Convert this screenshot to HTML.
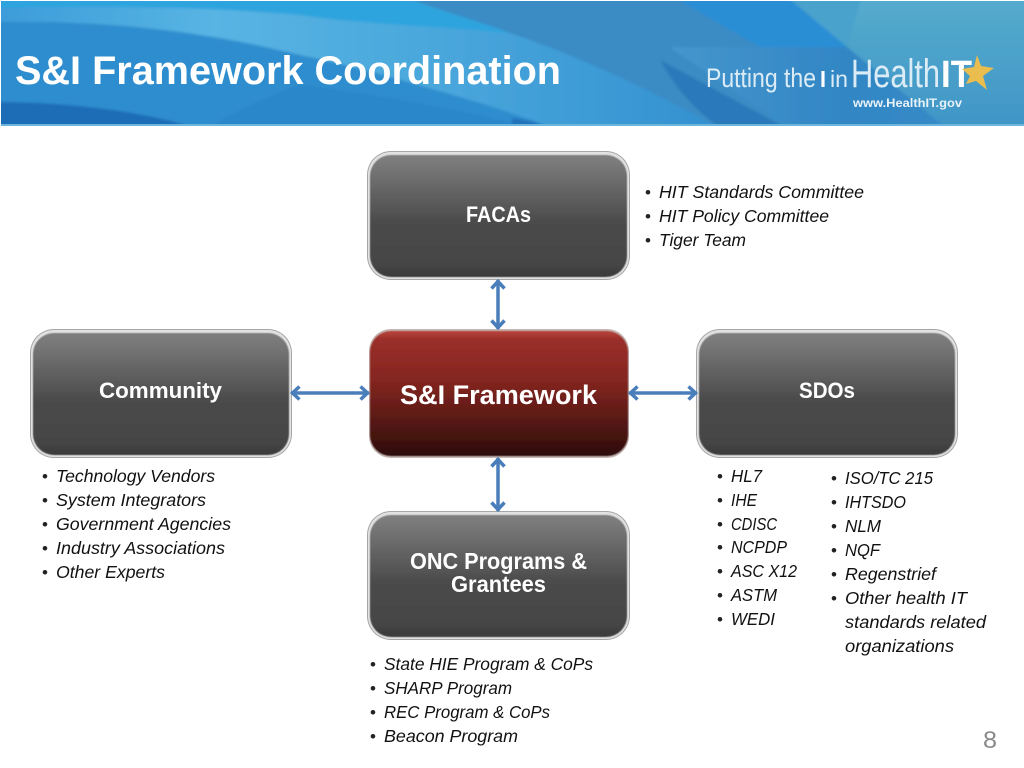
<!DOCTYPE html>
<html><head><meta charset="utf-8"><title>S&amp;I Framework Coordination</title>
<style>html,body{margin:0;padding:0;background:#fff}svg{display:block}
text{font-family:"Liberation Sans",sans-serif}
.l{font-size:17.500px;font-style:italic;fill:#111}
.b{font-size:17px;fill:#222}
.h{font-weight:bold;fill:#fff}
</style></head><body>
<svg width="1024" height="768" viewBox="0 0 1024 768" xmlns="http://www.w3.org/2000/svg">
<defs>
<linearGradient id="band" x1="0" y1="0" x2="1" y2="0"><stop offset="0" stop-color="#3b9cd9"/><stop offset=".3" stop-color="#58b4e3"/><stop offset=".6" stop-color="#4aa7dc"/><stop offset="1" stop-color="#3390cf"/></linearGradient>
<linearGradient id="teal" x1="0" y1="0" x2="0" y2="1"><stop offset="0" stop-color="#55accd"/><stop offset="1" stop-color="#3f95c6"/></linearGradient>
<linearGradient id="poly" x1="0" y1="0" x2="1" y2="0"><stop offset="0" stop-color="#4596cd"/><stop offset=".5" stop-color="#3186c4"/><stop offset="1" stop-color="#3a8ec8"/></linearGradient>
<linearGradient id="gr" x1="0" y1="0" x2="0" y2="1"><stop offset="0" stop-color="#808080"/><stop offset=".12" stop-color="#757575"/><stop offset=".55" stop-color="#4b4b4b"/><stop offset=".9" stop-color="#454545"/><stop offset="1" stop-color="#3a3a3a"/></linearGradient>
<linearGradient id="rd" x1="0" y1="0" x2="0" y2="1"><stop offset="0" stop-color="#b8443c"/><stop offset=".07" stop-color="#9a2f2a"/><stop offset=".4" stop-color="#842520"/><stop offset=".8" stop-color="#4c1612"/><stop offset="1" stop-color="#2c0b09"/></linearGradient>
<filter id="soft" x="-5%" y="-5%" width="110%" height="110%"><feGaussianBlur stdDeviation=".6"/></filter>
<filter id="s2" x="-2%" y="-10%" width="104%" height="120%"><feGaussianBlur stdDeviation="1.2"/></filter>
<marker id="ah" viewBox="0 0 15 16" refX="13.500" refY="8" markerWidth="15" markerHeight="16" markerUnits="userSpaceOnUse" orient="auto-start-reverse"><path d="M5 1.500 L12 8 L5 14.500" fill="none" stroke="#4a7ebb" stroke-width="3.500"/></marker>
<clipPath id="hc"><rect x="1" y="1" width="1023" height="125"/></clipPath>
</defs>
<rect width="1024" height="768" fill="#fff"/>
<!-- header -->
<g clip-path="url(#hc)"><g filter="url(#s2)">
<rect x="-5" y="-5" width="1035" height="136" fill="#2f8dce"/>
<path d="M-5 -5 L520 -5 L520 36 C440 30 367 25 300 15 C200 6 100 6 -5 8 Z" fill="#2ea4de"/>
<path d="M400 -5 L670 -5 L760 47 L669 47 L792 131 L725 131 C660 95 590 60 510 33 C470 18 430 8 400 -5 Z" fill="#3a8bc4"/>
<path d="M-5 8 C100 6 200 6 300 15 C367 25 440 26 510 33 C590 60 660 95 725 131 L565 131 C530 120 510 112 480 103 C420 85 350 65 300 55 C200 30 100 20 -5 22 Z" fill="url(#band)"/>
<path d="M300 85 C380 95 470 112 545 131 L200 131 C240 110 270 95 300 85 Z" fill="#2a80c4" opacity=".45"/>
<path d="M-5 102 C70 102 150 112 205 131 L-5 131 Z" fill="#1f6cb6"/>
<path d="M512 118 C530 120 545 125 552 131 L512 131 Z" fill="#2272ba"/>
<path d="M670 -5 L785 -5 L848 47 L760 47 Z" fill="#2a8ed5"/>
<path d="M669 47 L847 47 L1024 126 L1024 131 L792 131 Z" fill="url(#poly)"/>
<path d="M660 60 L792 131 L725 131 C700 115 680 95 660 60 Z" fill="#2c79ba"/>
<path d="M785 -5 L862 -5 L847 47 Z" fill="#48a2cc"/>
<path d="M862 -5 L1030 -5 L1030 131 L950 131 L847 47 Z" fill="url(#teal)"/>
</g></g>
<rect x="1" y="124" width="1023" height="2" fill="#6cb5dc"/>
<text x="15" y="84" class="h" font-size="40" textLength="546" lengthAdjust="spacingAndGlyphs">S&amp;I Framework Coordination</text>
<text x="706" y="87" font-size="27" fill="#dcecf6" textLength="110" lengthAdjust="spacingAndGlyphs">Putting the</text>
<text x="820" y="87" font-size="23" font-weight="bold" fill="#fff" textLength="6" lengthAdjust="spacingAndGlyphs">I</text>
<text x="830" y="87" font-size="23" fill="#dcecf6" textLength="18" lengthAdjust="spacingAndGlyphs">in</text>
<text x="851" y="87" font-size="40" fill="#dcecf6" textLength="89" lengthAdjust="spacingAndGlyphs">Health</text>
<text x="941" y="87" font-size="38" font-weight="bold" fill="#fff" textLength="31" lengthAdjust="spacingAndGlyphs">IT</text>
<path d="M977 55 L981 66 L994 68 L983 76 L987 90 L976 81 L966 84 L970 76 L962 69 L974 67 Z" fill="#e9bd4e"/>
<text x="853" y="107" font-size="11.500" font-weight="bold" fill="#e8f2f8" textLength="109" lengthAdjust="spacingAndGlyphs">www.HealthIT.gov</text>
<!-- boxes -->
<g>
<rect x="367" y="151" width="263" height="129" rx="24" fill="#a6a6a6"/><rect x="368" y="152" width="261" height="127" rx="23" fill="#e2e2e2"/><rect x="370" y="155" width="257" height="122" rx="21" fill="url(#gr)" filter="url(#soft)"/>
<rect x="30" y="329" width="262" height="129" rx="24" fill="#a6a6a6"/><rect x="31" y="330" width="260" height="127" rx="23" fill="#e2e2e2"/><rect x="33" y="333" width="256" height="122" rx="21" fill="url(#gr)" filter="url(#soft)"/>
<rect x="696" y="329" width="262" height="129" rx="24" fill="#a6a6a6"/><rect x="697" y="330" width="260" height="127" rx="23" fill="#e2e2e2"/><rect x="699" y="333" width="256" height="122" rx="21" fill="url(#gr)" filter="url(#soft)"/>
<rect x="367" y="511" width="263" height="129" rx="24" fill="#a6a6a6"/><rect x="368" y="512" width="261" height="127" rx="23" fill="#e2e2e2"/><rect x="370" y="515" width="257" height="122" rx="21" fill="url(#gr)" filter="url(#soft)"/>
<rect x="369" y="329" width="260" height="129" rx="22" fill="#c4b6b4"/><rect x="370" y="331" width="258" height="125" rx="21" fill="url(#rd)" filter="url(#soft)"/>
</g>
<!-- connectors -->
<g stroke="#4a7ebb" stroke-width="3.500" fill="none" marker-start="url(#ah)" marker-end="url(#ah)">
<line x1="498" y1="280" x2="498" y2="329"/>
<line x1="498" y1="458" x2="498" y2="511"/>
<line x1="291" y1="393" x2="369" y2="393"/>
<line x1="629" y1="393" x2="697" y2="393"/>
</g>
<!-- box labels -->
<text x="466" y="222" class="h" font-size="22" textLength="65" lengthAdjust="spacingAndGlyphs">FACAs</text>
<text x="99" y="398" class="h" font-size="22" textLength="123" lengthAdjust="spacingAndGlyphs">Community</text>
<text x="400" y="404" class="h" font-size="27" textLength="197" lengthAdjust="spacingAndGlyphs">S&amp;I Framework</text>
<text x="799" y="398" class="h" font-size="22" textLength="56" lengthAdjust="spacingAndGlyphs">SDOs</text>
<text x="410" y="569" class="h" font-size="23" textLength="177" lengthAdjust="spacingAndGlyphs">ONC Programs &amp;</text>
<text x="451" y="592" class="h" font-size="23" textLength="95" lengthAdjust="spacingAndGlyphs">Grantees</text>
<!-- lists -->
<g>
<text class="b" x="645" y="198">•</text><text class="l" x="659" y="198" textLength="205" lengthAdjust="spacingAndGlyphs">HIT Standards Committee</text>
<text class="b" x="645" y="222">•</text><text class="l" x="659" y="222" textLength="170" lengthAdjust="spacingAndGlyphs">HIT Policy Committee</text>
<text class="b" x="645" y="246">•</text><text class="l" x="659" y="246" textLength="87" lengthAdjust="spacingAndGlyphs">Tiger Team</text>

<text class="b" x="42" y="482">•</text><text class="l" x="56" y="482" textLength="159" lengthAdjust="spacingAndGlyphs">Technology Vendors</text>
<text class="b" x="42" y="506">•</text><text class="l" x="56" y="506" textLength="150" lengthAdjust="spacingAndGlyphs">System Integrators</text>
<text class="b" x="42" y="530">•</text><text class="l" x="56" y="530" textLength="175" lengthAdjust="spacingAndGlyphs">Government Agencies</text>
<text class="b" x="42" y="554">•</text><text class="l" x="56" y="554" textLength="169" lengthAdjust="spacingAndGlyphs">Industry Associations</text>
<text class="b" x="42" y="578">•</text><text class="l" x="56" y="578" textLength="109" lengthAdjust="spacingAndGlyphs">Other Experts</text>

<text class="b" x="717" y="482">•</text><text class="l" x="731" y="482" textLength="31" lengthAdjust="spacingAndGlyphs">HL7</text>
<text class="b" x="717" y="506">•</text><text class="l" x="731" y="506" textLength="26" lengthAdjust="spacingAndGlyphs">IHE</text>
<text class="b" x="717" y="530">•</text><text class="l" x="731" y="530" textLength="46" lengthAdjust="spacingAndGlyphs">CDISC</text>
<text class="b" x="717" y="553">•</text><text class="l" x="731" y="553" textLength="56" lengthAdjust="spacingAndGlyphs">NCPDP</text>
<text class="b" x="717" y="577">•</text><text class="l" x="731" y="577" textLength="66" lengthAdjust="spacingAndGlyphs">ASC X12</text>
<text class="b" x="717" y="601">•</text><text class="l" x="731" y="601" textLength="46" lengthAdjust="spacingAndGlyphs">ASTM</text>
<text class="b" x="717" y="625">•</text><text class="l" x="731" y="625" textLength="44" lengthAdjust="spacingAndGlyphs">WEDI</text>

<text class="b" x="831" y="484">•</text><text class="l" x="845" y="484" textLength="88" lengthAdjust="spacingAndGlyphs">ISO/TC 215</text>
<text class="b" x="831" y="508">•</text><text class="l" x="845" y="508" textLength="61" lengthAdjust="spacingAndGlyphs">IHTSDO</text>
<text class="b" x="831" y="532">•</text><text class="l" x="845" y="532" textLength="36" lengthAdjust="spacingAndGlyphs">NLM</text>
<text class="b" x="831" y="556">•</text><text class="l" x="845" y="556" textLength="35" lengthAdjust="spacingAndGlyphs">NQF</text>
<text class="b" x="831" y="580">•</text><text class="l" x="845" y="580" textLength="91" lengthAdjust="spacingAndGlyphs">Regenstrief</text>
<text class="b" x="831" y="604">•</text><text class="l" x="845" y="604" textLength="122" lengthAdjust="spacingAndGlyphs">Other health IT</text>
<text class="l" x="845" y="628" textLength="141" lengthAdjust="spacingAndGlyphs">standards related</text>
<text class="l" x="845" y="652" textLength="109" lengthAdjust="spacingAndGlyphs">organizations</text>

<text class="b" x="370" y="670">•</text><text class="l" x="384" y="670" textLength="209" lengthAdjust="spacingAndGlyphs">State HIE Program &amp; CoPs</text>
<text class="b" x="370" y="694">•</text><text class="l" x="384" y="694" textLength="128" lengthAdjust="spacingAndGlyphs">SHARP Program</text>
<text class="b" x="370" y="718">•</text><text class="l" x="384" y="718" textLength="166" lengthAdjust="spacingAndGlyphs">REC Program &amp; CoPs</text>
<text class="b" x="370" y="742">•</text><text class="l" x="384" y="742" textLength="134" lengthAdjust="spacingAndGlyphs">Beacon Program</text>
</g>
<text x="983" y="748" font-size="24" fill="#8a8a8a" textLength="14" lengthAdjust="spacingAndGlyphs">8</text>
</svg>
</body></html>
